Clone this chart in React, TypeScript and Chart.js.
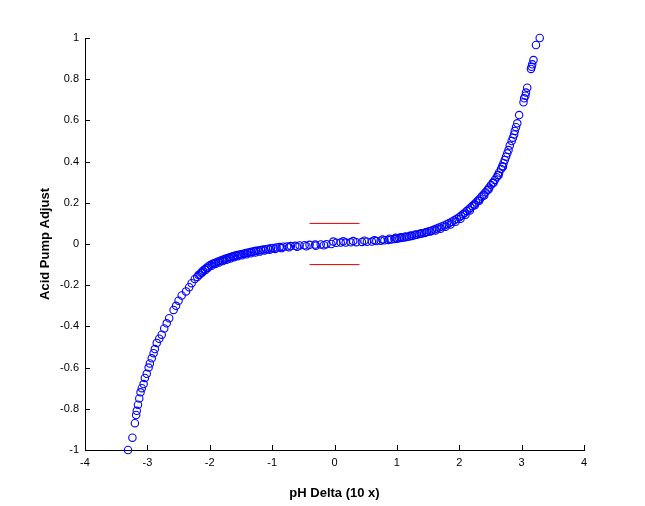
import { useEffect, useRef } from 'react';
import Chart from 'chart.js/auto';

// pH delta (x10) vs. acid pump adjustment
const PH_DELTA = [
  -3.31, -3.24, -3.2, -3.18, -3.17, -3.15, -3.13, -3.11, -3.09, -3.06, -3.04, -3.01, -2.98, -2.96,
  -2.93, -2.9, -2.88, -2.85, -2.81, -2.77, -2.73, -2.69, -2.65, -2.58, -2.54, -2.5, -2.45, -2.38,
  -2.33, -2.29, -2.24, -2.18, -2.14, -2.11, -2.08, -2.05, -2.02, -1.99, -1.96, -1.93, -1.9, -1.87,
  -1.84, -1.81, -1.78, -1.75, -1.72, -1.69, -1.66, -1.63, -1.6, -1.57, -1.53, -1.5, -1.46, -1.43,
  -1.4, -1.36, -1.33, -1.29, -1.26, -1.22, -1.18, -1.14, -1.1, -1.06, -1.02, -0.98, -0.93, -0.88,
  -0.82, -0.76, -0.7, -0.63, -0.56, -0.48, -0.4, -0.31, -0.22, -0.13, -0.05, 0.03, 0.1, 0.18, 0.26,
  0.35, 0.44, 0.52, 0.6, 0.67, 0.74, 0.8, 0.86, 0.91, 0.96, 1.0, 1.04, 1.08, 1.12, 1.16, 1.2, 1.24,
  1.28, 1.32, 1.36, 1.4, 1.44, 1.48, 1.52, 1.56, 1.6, 1.64, 1.68, 1.72, 1.76, 1.8, 1.84, 1.88, 1.92,
  1.96, 2.0, 2.03, 2.06, 2.09, 2.12, 2.15, 2.18, 2.21, 2.24, 2.27, 2.3, 2.33, 2.36, 2.39, 2.42, 2.45,
  2.48, 2.51, 2.54, 2.57, 2.6, 2.62, 2.64, 2.67, 2.69, 2.71, 2.73, 2.75, 2.77, 2.79, 2.81, 2.84,
  2.86, 2.88, 2.89, 2.91, 2.93, 2.96, 3.03, 3.04, 3.06, 3.07, 3.09, 3.15, 3.16, 3.17, 3.19, 3.23,
  3.29,
  // second pass of samples, slightly scattered around the first
  -2.2, -2.16, -2.12, -2.07, -2.03, -1.97, -1.91, -1.85, -1.79, -1.73, -1.67, -1.61, -1.55, -1.48,
  -1.41, -1.34, -1.27, -1.2, -1.12, -1.04, -0.95, -0.85, -0.73, -0.6, -0.45, -0.3, -0.17, -0.02,
  0.14, 0.3, 0.48, 0.64, 0.77, 0.88, 0.98, 1.06, 1.14, 1.22, 1.3, 1.38, 1.46, 1.54, 1.62, 1.7, 1.78,
  1.86, 1.94, 2.02, 2.1, 2.17, 2.25, 2.32, 2.4, 2.47, 2.55, 2.63, 2.7,
];
const PUMP_ADJUST = [
  -1.0, -0.94, -0.87, -0.83, -0.81, -0.78, -0.75, -0.72, -0.7, -0.68, -0.65, -0.63, -0.6, -0.58,
  -0.555, -0.53, -0.51, -0.48, -0.46, -0.44, -0.41, -0.385, -0.36, -0.32, -0.3, -0.275, -0.25,
  -0.23, -0.21, -0.19, -0.17, -0.15, -0.14, -0.13, -0.122, -0.115, -0.108, -0.102, -0.097, -0.093,
  -0.09, -0.086, -0.082, -0.079, -0.075, -0.072, -0.069, -0.066, -0.063, -0.06, -0.057, -0.055,
  -0.052, -0.05, -0.047, -0.045, -0.042, -0.04, -0.038, -0.035, -0.033, -0.031, -0.029, -0.027,
  -0.025, -0.023, -0.021, -0.019, -0.017, -0.015, -0.013, -0.012, -0.01, -0.009, -0.007, -0.006,
  -0.004, -0.003, -0.002, -0.001, 0.0, 0.006, 0.007, 0.007, 0.008, 0.009, 0.01, 0.011, 0.012,
  0.014, 0.016, 0.018, 0.02, 0.022, 0.024, 0.026, 0.028, 0.03, 0.032, 0.034, 0.036, 0.039, 0.042,
  0.045, 0.048, 0.051, 0.054, 0.058, 0.062, 0.066, 0.07, 0.075, 0.08, 0.085, 0.09, 0.096, 0.102,
  0.108, 0.115, 0.122, 0.13, 0.137, 0.144, 0.152, 0.16, 0.168, 0.176, 0.184, 0.193, 0.202, 0.211,
  0.22, 0.23, 0.24, 0.251, 0.262, 0.274, 0.286, 0.298, 0.311, 0.324, 0.335, 0.347, 0.364, 0.378,
  0.392, 0.408, 0.424, 0.44, 0.456, 0.478, 0.5, 0.516, 0.532, 0.549, 0.567, 0.586, 0.626, 0.688,
  0.707, 0.72, 0.735, 0.759, 0.85, 0.86, 0.872, 0.893, 0.966, 1.0,
  // second pass
  -0.16, -0.148, -0.138, -0.126, -0.116, -0.106, -0.097, -0.09, -0.083, -0.077, -0.07, -0.064,
  -0.059, -0.055, -0.05, -0.045, -0.041, -0.037, -0.032, -0.028, -0.024, -0.02, -0.016, -0.013,
  -0.011, -0.008, -0.006, 0.012, 0.013, 0.014, 0.016, 0.018, 0.022, 0.026, 0.03, 0.033, 0.037,
  0.041, 0.046, 0.051, 0.056, 0.061, 0.066, 0.074, 0.084, 0.095, 0.108, 0.122, 0.142, 0.163, 0.188,
  0.21, 0.236, 0.264, 0.297, 0.334, 0.375,
];

// dead band markers
const BAND_X = [-0.4, 0.4];
const BAND_UPPER = 0.1;
const BAND_LOWER = -0.1;

const X_TICKS = [-4, -3, -2, -1, 0, 1, 2, 3, 4];
const Y_TICKS = [-1, -0.8, -0.6, -0.4, -0.2, 0, 0.2, 0.4, 0.6, 0.8, 1];

const FONT = 'Liberation Sans, Arial, Helvetica, sans-serif';

// MATLAB style tick marks pointing into the axes
const innerTicks = {
  id: 'innerTicks',
  afterDraw(chart: any) {
    const { ctx, chartArea, scales } = chart;
    ctx.save();
    ctx.strokeStyle = '#000';
    ctx.lineWidth = 1;
    ctx.beginPath();
    X_TICKS.forEach((v) => {
      const px = Math.round(scales.x.getPixelForValue(v)) + 0.5;
      ctx.moveTo(px, chartArea.bottom);
      ctx.lineTo(px, chartArea.bottom - 5);
    });
    Y_TICKS.forEach((v) => {
      const py = Math.round(scales.y.getPixelForValue(v)) + 0.5;
      ctx.moveTo(chartArea.left, py);
      ctx.lineTo(chartArea.left + 5, py);
    });
    ctx.stroke();
    ctx.restore();
  },
};

export default function App() {
  const chartRef = useRef<HTMLCanvasElement>(null);
  const chartInstance = useRef<Chart | null>(null);

  useEffect(() => {
    if (!chartRef.current) return;
    const ctx = chartRef.current.getContext('2d');
    if (!ctx) return;

    if (chartInstance.current) {
      chartInstance.current.destroy();
    }

    const points = PH_DELTA.map((x, i) => ({ x, y: PUMP_ADJUST[i] }));
    const bandLine = (y: number) => ({
      data: BAND_X.map((x) => ({ x, y })),
      showLine: true,
      borderColor: 'rgb(220, 0, 0)',
      borderWidth: 1,
      pointRadius: 0,
      clip: false as const,
    });

    chartInstance.current = new Chart(ctx, {
      type: 'scatter',
      data: {
        datasets: [
          {
            label: 'Acid Pump Adjust',
            data: points,
            pointStyle: 'circle',
            pointRadius: 3.7,
            pointBorderWidth: 1.1,
            pointBorderColor: '#0000ff',
            pointBackgroundColor: 'rgba(0,0,0,0)',
            clip: false as const,
          },
          bandLine(BAND_UPPER),
          bandLine(BAND_LOWER),
        ],
      },
      options: {
        animation: false,
        responsive: true,
        maintainAspectRatio: false,
        layout: { padding: { left: 0, top: 38, right: 61, bottom: 0 } },
        plugins: {
          legend: { display: false },
          tooltip: { enabled: false },
        },
        scales: {
          x: {
            type: 'linear',
            min: -4,
            max: 4,
            afterFit: (scale: any) => {
              scale.height = 56;
            },
            afterBuildTicks: (scale: any) => {
              scale.ticks = X_TICKS.map((value) => ({ value }));
            },
            grid: { drawOnChartArea: false, drawTicks: false },
            border: { display: true, color: '#000', width: 1 },
            ticks: {
              color: '#000',
              padding: 6,
              maxRotation: 0,
              font: { family: FONT, size: 11 },
              callback: (v: any) => String(Math.round(Number(v) * 10) / 10),
            },
            title: {
              display: true,
              text: 'pH Delta (10 x)',
              color: '#000',
              font: { family: FONT, size: 13, weight: 'bold' },
              padding: { top: 0, bottom: 5 },
            },
          },
          y: {
            type: 'linear',
            min: -1,
            max: 1,
            afterFit: (scale: any) => {
              scale.width = 85;
            },
            afterBuildTicks: (scale: any) => {
              scale.ticks = Y_TICKS.map((value) => ({ value }));
            },
            grid: { drawOnChartArea: false, drawTicks: false },
            border: { display: true, color: '#000', width: 1 },
            ticks: {
              color: '#000',
              padding: 6,
              font: { family: FONT, size: 11 },
              callback: (v: any) => String(Math.round(Number(v) * 10) / 10),
            },
            title: {
              display: true,
              text: 'Acid Pump Adjust',
              color: '#000',
              font: { family: FONT, size: 13, weight: 'bold' },
              padding: { top: 38, bottom: 0 },
            },
          },
        },
      },
      plugins: [innerTicks],
    });

    return () => {
      if (chartInstance.current) {
        chartInstance.current.destroy();
        chartInstance.current = null;
      }
    };
  }, []);

  return (
    <div style={{ position: 'fixed', left: 0, top: 0, width: 645, height: 506, background: '#fff' }}>
      <canvas ref={chartRef}></canvas>
    </div>
  );
}
